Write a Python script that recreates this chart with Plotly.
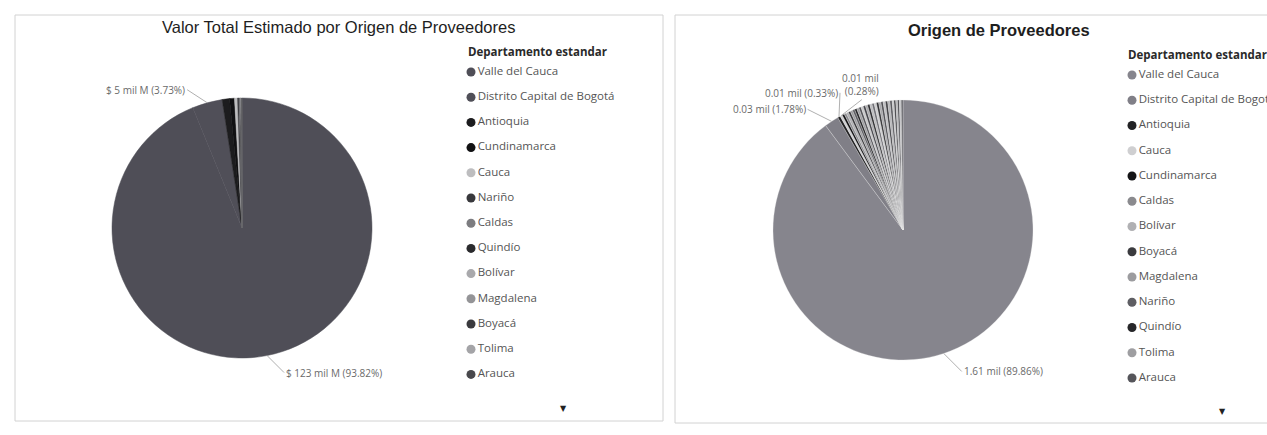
import math
import plotly.graph_objects as go

W, H = 1267, 435

# ---------------- DATA ----------------
# Left chart: Valor Total Estimado ($ mil M) por departamento
left_departamentos = ["Valle del Cauca", "Distrito Capital de Bogotá", "Antioquia", "Cundinamarca",
                      "Cauca", "Nariño", "Caldas", "Quindío", "Bolívar", "Magdalena", "Boyacá",
                      "Tolima", "Arauca"]
left_valores = [123.0, 4.89, 1.2, 0.8, 0.5, 0.25, 0.15, 0.1, 0.08, 0.05, 0.04, 0.02, 0.02]
left_colores = ["#4f4e57", "#504f58", "#1c1c1e", "#111113", "#bdbdbf", "#38383c", "#7c7c80",
                "#2a2a2d", "#a9a9ac", "#949497", "#3a3a3e", "#a4a4a7", "#48484c"]

# Right chart: cantidad de proveedores por departamento
right_departamentos = ["Valle del Cauca", "Distrito Capital de Bogotá", "Antioquia", "Cauca",
                       "Cundinamarca", "Caldas", "Bolívar", "Boyacá", "Magdalena", "Nariño",
                       "Quindío", "Tolima", "Arauca",
                       # entries below the legend scroll
                       "Atlántico", "Huila", "Risaralda", "Santander", "Meta", "Norte de Santander",
                       "Córdoba", "Cesar", "Sucre", "La Guajira", "Casanare", "Caquetá", "Chocó",
                       "Putumayo", "Amazonas", "San Andrés", "Guaviare", "Vichada", "Guainía", "Vaupés"]
right_proveedores = [1612, 32, 6, 5, 5, 5, 5, 5, 5, 5, 5, 5, 5,
                     5, 5, 5, 5, 5, 5, 5, 5, 5, 5, 5, 5, 5, 5, 4, 4, 4, 4, 4, 4]
right_colores = ["#86858d", "#807f87", "#222224", "#cfcfd1", "#141416", "#8a8a8e", "#b0b0b3",
                 "#3a3a3e", "#9c9c9f", "#5e5e63", "#262629", "#9e9ea1", "#55555a",
                 "#c8c8ca", "#44444a", "#acacaf", "#2e2e31", "#bdbdc0", "#6e6e74", "#cfcfd1",
                 "#333336", "#a8a8ab", "#505055", "#c0c0c3", "#404044", "#b4b4b7", "#5a5a5f",
                 "#c6c6c8", "#3c3c40", "#b6b6b9", "#4a4a4f", "#c2c2c5", "#626267"]

legend_visible = 13  # entries shown before the legend scroll arrow

titulo_izq = "Valor Total Estimado por Origen de Proveedores"
titulo_der = "Origen de Proveedores"
titulo_leyenda = "Departamento estandar"

# ---------------- LAYOUT CONSTANTS (pixels) ----------------
PIE_L = dict(cx=242, cy=228, r=130)
PIE_R = dict(cx=903, cy=230, r=130)
LEG_L = dict(x=471, y0=72, step=25.2)
LEG_R = dict(x=1132, y0=75, step=25.25)


def pie_domain(p):
    return dict(x=[(p["cx"] - p["r"]) / W, (p["cx"] + p["r"]) / W],
                y=[1 - (p["cy"] + p["r"]) / H, 1 - (p["cy"] - p["r"]) / H])


def edge_point(values, idx, p):
    total = sum(values)
    mid = (sum(values[:idx]) + values[idx] / 2) / total * 2 * math.pi
    px = p["cx"] + p["r"] * math.sin(mid)
    py = p["cy"] - p["r"] * math.cos(mid)
    return px / W, 1 - py / H


fig = go.Figure()

fig.add_trace(go.Pie(
    labels=left_departamentos, values=left_valores, sort=False, direction="clockwise",
    rotation=0, domain=pie_domain(PIE_L), textinfo="none", showlegend=False,
    marker=dict(colors=left_colores, line=dict(color=left_colores, width=0.5)),
    hovertemplate="%{label}<br>$ %{value} mil M (%{percent})<extra></extra>"))

fig.add_trace(go.Pie(
    labels=right_departamentos, values=right_proveedores, sort=False, direction="clockwise",
    rotation=0, domain=pie_domain(PIE_R), textinfo="none", showlegend=False,
    marker=dict(colors=right_colores, line=dict(color="#e6e6e8", width=0.3)),
    hovertemplate="%{label}<br>%{value} (%{percent})<extra></extra>"))

# ---------------- Manual legends (hidden cartesian axes) ----------------
def legend_axes(leg, n):
    top = leg["y0"] - leg["step"] / 2
    bottom = leg["y0"] + leg["step"] * (n - 0.5)
    return [leg["x"] / W, min(1.0, (leg["x"] + 190) / W)], [1 - bottom / H, 1 - top / H]

n = legend_visible
lx, ly = legend_axes(LEG_L, n)
rx, ry = legend_axes(LEG_R, n)
axis_common = dict(visible=False, fixedrange=True)
fig.update_layout(
    xaxis=dict(domain=lx, range=[0, 1], **axis_common),
    yaxis=dict(domain=ly, range=[n - 0.5, -0.5], **axis_common),
    xaxis2=dict(domain=rx, range=[0, 1], anchor="y2", **axis_common),
    yaxis2=dict(domain=ry, range=[n - 0.5, -0.5], anchor="x2", **axis_common),
)

leg_font = dict(family="Open Sans, Noto Sans, sans-serif", size=11.5, color="#555555")
fig.add_trace(go.Scatter(
    x=[0] * n, y=list(range(n)), mode="markers+text", text=left_departamentos[:n],
    textposition="middle right", textfont=leg_font, cliponaxis=False, hoverinfo="skip",
    marker=dict(size=9, color=left_colores[:n]), showlegend=False, xaxis="x", yaxis="y"))
fig.add_trace(go.Scatter(
    x=[0] * n, y=list(range(n)), mode="markers+text", text=right_departamentos[:n],
    textposition="middle right", textfont=leg_font, cliponaxis=False, hoverinfo="skip",
    marker=dict(size=9, color=right_colores[:n]), showlegend=False, xaxis="x2", yaxis="y2"))

# ---------------- Annotations ----------------
ann = []
lab_font = dict(family="Open Sans, Noto Sans, sans-serif", size=10, color="#6a6a6a")


def data_label(values, idx, p, text, ax, ay, xanchor):
    x, y = edge_point(values, idx, p)
    ann.append(dict(x=x, y=y, xref="paper", yref="paper", text=text, showarrow=True,
                    arrowhead=0, arrowwidth=1, arrowcolor="#b0b0b0", ax=ax, ay=ay,
                    xanchor=xanchor, yanchor="middle", font=lab_font, align="right"))


lt = sum(left_valores)
for idx, ax, ay, xa in [(1, -20, -13, "right"), (0, 17, 17, "left")]:
    v = left_valores[idx]
    data_label(left_valores, idx, PIE_L, f"$ {v:.0f} mil M ({v / lt:.2%})", ax, ay, xa)

rt = sum(right_proveedores)
for idx, ax, ay, xa, br in [(0, 18, 18, "left", False), (1, -24, -12, "right", False),
                            (2, 1, -24, "right", False), (3, 40, -31, "right", True)]:
    v = right_proveedores[idx]
    sep = "<br>" if br else " "
    data_label(right_proveedores, idx, PIE_R, f"{v / 1000:.2f} mil{sep}({v / rt:.2%})", ax, ay, xa)

# titles
ann.append(dict(x=338 / W, y=1 - 27 / H, xref="paper", yref="paper", text=titulo_izq,
                showarrow=False, xanchor="center", yanchor="middle",
                font=dict(family="Liberation Sans, Arial, sans-serif", size=16.5, color="#1e1e1e")))
ann.append(dict(x=999 / W, y=1 - 30 / H, xref="paper", yref="paper", text=f"<b>{titulo_der}</b>",
                showarrow=False, xanchor="center", yanchor="middle",
                font=dict(family="Liberation Sans, Arial, sans-serif", size=16.5, color="#1e1e1e")))
# legend titles
for lx0, ly0 in [(466, 52), (1126, 55)]:
    ann.append(dict(x=lx0 / W, y=1 - ly0 / H, xref="paper", yref="paper",
                    text=f"<b>{titulo_leyenda}</b>", showarrow=False, xanchor="left",
                    yanchor="middle",
                    font=dict(family="Open Sans, Noto Sans, sans-serif", size=11.5, color="#2a2a2a")))
# scroll arrows
for sx, sy in [(563, 408), (1222, 411)]:
    ann.append(dict(x=sx / W, y=1 - sy / H, xref="paper", yref="paper", text="▼",
                    showarrow=False, xanchor="center", yanchor="middle",
                    font=dict(family="DejaVu Sans, sans-serif", size=8, color="#222222")))

shapes = [
    dict(type="rect", xref="paper", yref="paper", x0=15 / W, x1=663 / W, y0=1 - 421 / H,
         y1=1 - 15 / H, line=dict(color="#d2d2d2", width=1)),
    dict(type="rect", xref="paper", yref="paper", x0=675 / W, x1=1330 / W, y0=1 - 423 / H,
         y1=1 - 15 / H, line=dict(color="#d2d2d2", width=1)),
]

fig.update_layout(
    width=W, height=H, autosize=False,
    margin=dict(l=0, r=0, t=0, b=0),
    paper_bgcolor="#ffffff", plot_bgcolor="#ffffff",
    annotations=ann, shapes=shapes, showlegend=False,
)

fig.write_html("out.html", config={"displayModeBar": False},
               post_script="document.body.style.margin='0';document.body.style.overflow='hidden';")
